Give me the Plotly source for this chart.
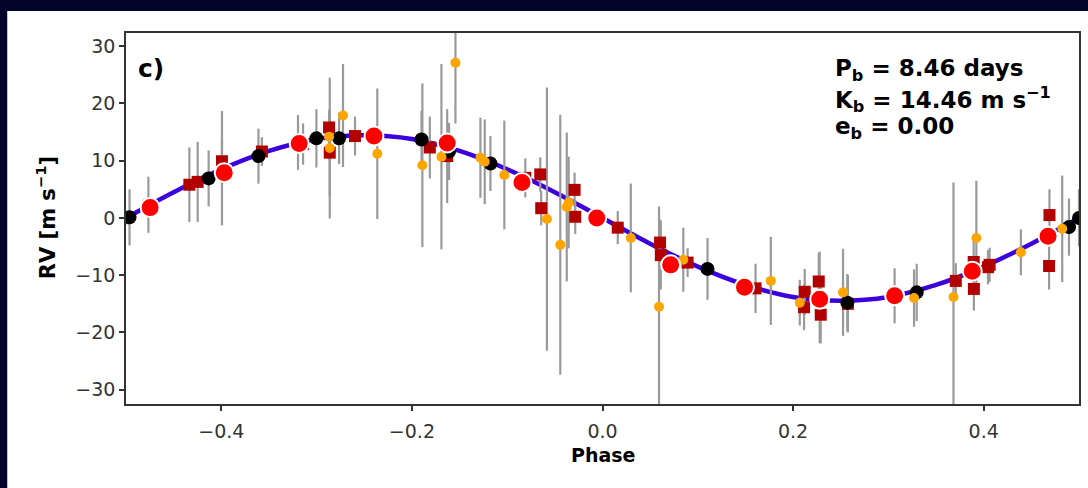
import plotly.graph_objects as go

# ---- model curve ----
model_phase = [-0.5, -0.45, -0.4, -0.35, -0.3, -0.25, -0.2, -0.15, -0.1, -0.05, 0.0,
               0.05, 0.1, 0.15, 0.2, 0.25, 0.3, 0.35, 0.4, 0.45, 0.5]
model_rv = [0.0, 4.5, 8.5, 11.7, 13.8, 14.46, 13.8, 11.7, 8.5, 4.5, 0.0,
            -4.5, -8.5, -11.7, -13.8, -14.46, -13.8, -11.7, -8.5, -4.5, 0.0]

# ---- binned points (large red) ----
bin_phase = [-0.4747, -0.3969, -0.3183, -0.2398, -0.163, -0.0845, -0.006,
             0.0715, 0.149, 0.2279, 0.3065, 0.388, 0.4675]
bin_rv = [1.8, 7.9, 13.0, 14.3, 13.1, 6.2, 0.0, -8.2, -12.1, -14.2, -13.6, -9.3, -3.2]

# ---- instrument 1 (black circles) ----
blk_phase = [-0.4963, -0.4765, -0.4133, -0.361, -0.3195, -0.3002, -0.2764, -0.1899,
             -0.161, -0.1176, 0.1102, 0.2279, 0.2569, 0.3065, 0.3297, 0.4895, 0.5]
blk_rv = [0.1, 2.3, 6.9, 10.8, 13.2, 13.9, 13.9, 13.7, 11.6, 9.5, -8.9, -13.9, -14.8,
          -13.6, -13.0, -1.6, 0.0]
blk_err = [4.9, 4.9, 4.9, 4.8, 4.8, 5.1, 4.5, 5.0, 5.0, 4.8, 5.4, 8.0, 5.0, 4.8, 5.0, 5.0, 5.0]

# ---- instrument 2 (dark red squares) ----
sq_phase = [-0.4335, -0.4248, -0.3993, -0.3574, -0.3142, -0.2869, -0.2862, -0.2597,
            -0.1812, -0.163, -0.081, -0.0653, -0.0643, -0.0293, -0.0286, 0.016,
            0.0604, 0.0612, 0.0893, 0.1606, 0.2122, 0.2115, 0.2269, 0.229, 0.2575,
            0.3707, 0.3895, 0.3897, 0.4045, 0.4062, 0.469, 0.4686]
sq_rv = [5.8, 6.3, 9.9, 11.6, 12.9, 15.8, 11.4, 14.3,
         12.3, 10.8, 7.0, 7.6, 1.7, 4.9, 0.2, -1.7,
         -4.3, -6.5, -7.8, -12.3, -12.9, -15.6, -11.1, -16.9, -15.0,
         -11.0, -7.7, -12.4, -8.6, -8.2, 0.5, -8.4]
sq_err = [6.5, 7.0, 4.0, 2.5, 3.6, 3.0, 7.6, 3.4,
          5.4, 8.2, 3.4, 3.0, 3.0, 3.0, 3.0, 2.9,
          4.0, 6.0, 2.5, 4.3, 4.0, 4.0, 5.0, 5.0, 5.0,
          3.1, 4.0, 3.8, 3.0, 3.0, 4.5, 4.1]

# ---- instrument 3 (orange circles) ----
or_phase = [-0.3993, -0.2869, -0.2862, -0.2723, -0.2363, -0.189, -0.169, -0.1543,
            -0.1281, -0.1236, -0.103, -0.0583, -0.0443, -0.0375, -0.0355, 0.0297,
            0.0593, 0.0848, 0.1766, 0.207, 0.2524, 0.3269, 0.3683, 0.3923, 0.439, 0.4824]
or_rv = [8.7, 14.2, 12.2, 17.9, 11.2, 9.2, 10.7, 27.1,
         10.5, 9.8, 7.5, -0.2, -4.7, 1.9, 2.7, -3.5,
         -15.5, -7.3, -11.0, -14.8, -13.0, -14.0, -13.8, -3.5, -6.0, -1.9]
or_err = [10.0, 4.0, 12.3, 9.0, 11.4, 14.3, 16.2, 10.6,
          7.0, 7.4, 9.5, 23.0, 22.7, 13.0, 8.0, 9.5,
          17.5, 5.6, 7.7, 4.0, 7.6, 5.0, 20.0, 10.0, 4.0, 9.3]

x_ticks = [-0.4, -0.2, 0.0, 0.2, 0.4]
y_ticks = [-30, -20, -10, 0, 10, 20, 30]

ERR_COLOR = "#9a9a9a"
FONT = "DejaVu Sans"

fig = go.Figure()

# model line
fig.add_trace(go.Scatter(x=model_phase, y=model_rv, mode="lines",
                         line=dict(color="#3c00dc", width=4.5, shape="spline"),
                         showlegend=False, hoverinfo="skip"))

# error bars (behind all markers)
for ph, rv, er in [(blk_phase, blk_rv, blk_err), (sq_phase, sq_rv, sq_err), (or_phase, or_rv, or_err)]:
    fig.add_trace(go.Scatter(x=ph, y=rv, mode="markers",
                             marker=dict(size=1, color="rgba(0,0,0,0)"),
                             error_y=dict(type="data", array=er, visible=True,
                                          color=ERR_COLOR, thickness=2.2, width=0),
                             showlegend=False, hoverinfo="skip"))

fig.add_trace(go.Scatter(x=sq_phase, y=sq_rv, mode="markers",
                         marker=dict(symbol="square", size=12, color="#b20000"),
                         showlegend=False))
fig.add_trace(go.Scatter(x=blk_phase, y=blk_rv, mode="markers",
                         marker=dict(size=14, color="black"),
                         showlegend=False))
fig.add_trace(go.Scatter(x=or_phase, y=or_rv, mode="markers",
                         marker=dict(size=10, color="#ffa500"),
                         showlegend=False))
fig.add_trace(go.Scatter(x=bin_phase, y=bin_rv, mode="markers",
                         marker=dict(size=19, color="#ff0000", line=dict(color="white", width=2)),
                         showlegend=False))

fig.add_hline(y=0, line=dict(color="#7a7a7a", width=2.2, dash="10px,6px"), layer="below")

# white panel over dark frame
fig.add_shape(type="rect", xref="paper", yref="paper",
              x0=-0.1246, x1=1.01, y0=-0.25, y1=1.059,
              fillcolor="white", line=dict(width=0), layer="below")

axis_common = dict(showline=True, mirror=True, linecolor="#333333", linewidth=1.5,
                   ticks="outside", ticklen=5, tickwidth=1.5, tickcolor="#333333",
                   showgrid=False, zeroline=False,
                   tickfont=dict(family=FONT, size=19, color="#333333"))

fig.update_xaxes(range=[-0.5, 0.5], tickvals=x_ticks, tickformat=".1f",
                 ticklabelstandoff=4, **axis_common)
fig.update_yaxes(range=[-32.5, 32.3], tickvals=y_ticks, **axis_common)

def px_x(px):
    return (px - 126) / 955.0

def px_y(py):
    return (404 - py) / 371.0

annos = [
    dict(text="<b>c)</b>", x=px_x(136), y=px_y(68), xanchor="left", yanchor="middle",
         font=dict(size=25, color="black", family=FONT)),
    dict(text="<b>P<sub>b</sub> = 8.46 days</b>", x=px_x(834), y=px_y(70), xanchor="left", yanchor="middle",
         font=dict(size=23, color="black", family=FONT)),
    dict(text="<b>K<sub>b</sub> = 14.46 m s<sup>−1</sup></b>", x=px_x(834), y=px_y(99), xanchor="left", yanchor="middle",
         font=dict(size=23, color="black", family=FONT)),
    dict(text="<b>e<sub>b</sub> = 0.00</b>", x=px_x(834), y=px_y(128), xanchor="left", yanchor="middle",
         font=dict(size=23, color="black", family=FONT)),
    dict(text="<b>RV [m s<sup>−1</sup>]</b>", x=px_x(46), y=px_y(218), textangle=-90,
         xanchor="center", yanchor="middle", font=dict(size=21, color="black", family=FONT)),
    dict(text="<b>Phase</b>", x=px_x(604), y=px_y(455), xanchor="center", yanchor="middle",
         font=dict(size=19, color="black", family=FONT)),
]
for a in annos:
    fig.add_annotation(xref="paper", yref="paper", showarrow=False, **a)

fig.update_layout(width=1088, height=488, autosize=False,
                  margin=dict(l=126, r=7, t=33, b=84),
                  paper_bgcolor="#03042c", plot_bgcolor="white",
                  font=dict(family=FONT))

fig.write_html("out.html")
